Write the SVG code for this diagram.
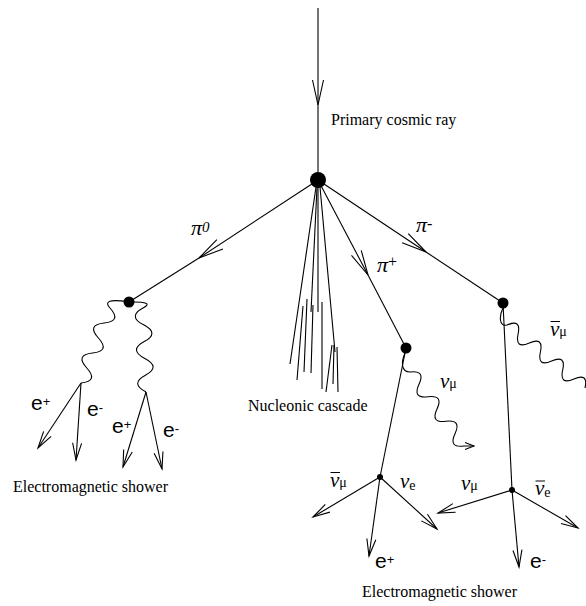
<svg xmlns="http://www.w3.org/2000/svg" width="586" height="606" viewBox="0 0 586 606">
<defs>
<style>
.ln{stroke:#000;stroke-width:1.1;fill:none}
.dot{fill:#000}
.t{font-family:"Liberation Serif",serif;font-size:16px;fill:#000}
.gk{font-family:"Liberation Serif",serif;font-style:italic;font-size:22px;fill:#000}
.nu{font-family:"Liberation Serif",serif;font-style:italic;font-size:21px;fill:#000}
.sub{font-style:normal;font-size:14px}
.e{font-family:"Liberation Sans",sans-serif;font-size:21px;fill:#000}
.sup{font-size:13px}
.ov{stroke:#000;stroke-width:1}
</style>
<marker id="aL" markerUnits="userSpaceOnUse" orient="auto" overflow="visible" markerWidth="1" markerHeight="1" refX="0" refY="0"><path d="M-25,-5.5 L0,0 L-25,5.5" fill="none" stroke="#000" stroke-width="1.1"/></marker>
<marker id="aS" markerUnits="userSpaceOnUse" orient="auto" overflow="visible" markerWidth="1" markerHeight="1" refX="0" refY="0"><path d="M-17,-4.5 L0,0 L-17,4.5" fill="none" stroke="#000" stroke-width="1.1"/></marker>
<marker id="aW" markerUnits="userSpaceOnUse" orient="auto" overflow="visible" markerWidth="1" markerHeight="1" refX="0" refY="0"><path d="M-9,-3.5 L0,0 L-9,3.5" fill="none" stroke="#000" stroke-width="1.1"/></marker>
</defs>
<rect width="586" height="606" fill="#fff"/>

<g id="connectors">
  <line class="ln" x1="318" y1="8" x2="318" y2="105" marker-end="url(#aL)"/>
  <line class="ln" x1="318" y1="105" x2="318" y2="180"/>
  <line class="ln" x1="318" y1="180" x2="199" y2="258" marker-end="url(#aL)"/>
  <line class="ln" x1="199" y1="258" x2="129" y2="302"/>
  <line class="ln" x1="318" y1="180" x2="368" y2="275" marker-end="url(#aL)"/>
  <line class="ln" x1="368" y1="275" x2="406" y2="348"/>
  <line class="ln" x1="318" y1="180" x2="426" y2="252" marker-end="url(#aL)"/>
  <line class="ln" x1="426" y1="252" x2="503" y2="303"/>
  <g id="cascade">
    <line class="ln" x1="316" y1="187" x2="290" y2="364"/>
    <line class="ln" x1="317" y1="187" x2="311" y2="312"/>
    <line class="ln" x1="318" y1="187" x2="318" y2="312"/>
    <line class="ln" x1="320" y1="187" x2="335" y2="352"/>
    <line class="ln" x1="303" y1="306" x2="297" y2="380"/>
    <line class="ln" x1="307" y1="299" x2="304" y2="372"/>
    <line class="ln" x1="313" y1="305" x2="311" y2="373"/>
    <line class="ln" x1="322" y1="302" x2="322" y2="389"/>
    <line class="ln" x1="332" y1="345" x2="326" y2="392"/>
    <line class="ln" x1="334" y1="345" x2="333" y2="384"/>
    <line class="ln" x1="337" y1="347" x2="338" y2="392"/>
  </g>
  <path class="ln" d="M129,302 Q100.4,297.4 110,308 Q122,321.3 104.2,323 T98.4,338 T92.6,353 T86.8,368 T81,383"/>
  <path class="ln" d="M129,302 Q155.6,301.3 143,308 Q127.3,316.4 143.6,324.8 T144.2,341.6 T144.8,358.4 T145.4,375.2 T146,392"/>
  <line class="ln" x1="81" y1="383" x2="38" y2="448" marker-end="url(#aS)"/>
  <line class="ln" x1="81" y1="383" x2="76" y2="460" marker-end="url(#aS)"/>
  <line class="ln" x1="146" y1="392" x2="123" y2="467" marker-end="url(#aS)"/>
  <line class="ln" x1="146" y1="392" x2="162" y2="469" marker-end="url(#aS)"/>
  <line class="ln" x1="406" y1="348" x2="380" y2="477"/>
  <path class="ln" d="M405,353 C401,362 401,372 410,372 Q425.8,369.9 419,384.3 T428,396.7 T437,409 T446,421.3 T455,433.7 T464,446 L474,446" marker-end="url(#aW)"/>
  <line class="ln" x1="503" y1="303" x2="512" y2="490"/>
  <path class="ln" d="M503,308 C499,316 499,327 507,325 Q521.4,318.6 518.1,334 T529.3,343 T540.4,352 T551.6,361 T562.7,370 T573.9,379 T585,388"/>
  <line class="ln" x1="380" y1="477" x2="313" y2="517" marker-end="url(#aS)"/>
  <line class="ln" x1="380" y1="477" x2="369" y2="556" marker-end="url(#aS)"/>
  <line class="ln" x1="380" y1="477" x2="437" y2="529" marker-end="url(#aS)"/>
  <line class="ln" x1="512" y1="490" x2="438" y2="513" marker-end="url(#aS)"/>
  <line class="ln" x1="512" y1="490" x2="519" y2="567" marker-end="url(#aS)"/>
  <line class="ln" x1="512" y1="490" x2="578" y2="528" marker-end="url(#aS)"/>
</g>

<g id="v-main"><circle class="dot" cx="318" cy="180" r="8"/></g>
<g id="v-pi0"><circle class="dot" cx="129" cy="302" r="5.5"/></g>
<g id="v-piplus"><circle class="dot" cx="406" cy="348" r="5.5"/></g>
<g id="v-piminus"><circle class="dot" cx="503" cy="303" r="5.5"/></g>
<g id="v-muplus"><circle class="dot" cx="380" cy="477" r="3"/></g>
<g id="v-muminus"><circle class="dot" cx="512" cy="490" r="3"/></g>

<g id="label-primary"><text class="t" x="331" y="125">Primary cosmic ray</text></g>
<g id="label-nucleonic"><text class="t" x="248" y="411">Nucleonic cascade</text></g>
<g id="label-shower-left"><text class="t" x="13" y="492">Electromagnetic shower</text></g>
<g id="label-shower-right"><text class="t" x="362" y="597">Electromagnetic shower</text></g>

<g id="label-pi0"><text class="gk" x="191" y="235">π<tspan font-size="15" dy="-3">0</tspan></text></g>
<g id="label-piplus"><text class="gk" x="377" y="272">π<tspan font-style="normal" font-size="16" dy="-5">+</tspan></text></g>
<g id="label-piminus"><text class="gk" x="416" y="232">π<tspan font-style="normal" font-size="16" dy="-3">-</tspan></text></g>

<g id="label-e1"><text class="e" x="31" y="410">e<tspan class="sup" dy="-4">+</tspan></text></g>
<g id="label-e2"><text class="e" x="87" y="416">e<tspan class="sup" dy="-4">-</tspan></text></g>
<g id="label-e3"><text class="e" x="112" y="433">e<tspan class="sup" dy="-4">+</tspan></text></g>
<g id="label-e4"><text class="e" x="163" y="437">e<tspan class="sup" dy="-4">-</tspan></text></g>
<g id="label-e5"><text class="e" x="375" y="568">e<tspan class="sup" dy="-4">+</tspan></text></g>
<g id="label-e6"><text class="e" x="530" y="568">e<tspan class="sup" dy="-4">-</tspan></text></g>

<g id="label-numubar-1"><text class="nu" x="550" y="336">ν<tspan class="sub">μ</tspan></text><line class="ov" x1="550.5" y1="321.5" x2="560" y2="321.5"/></g>
<g id="label-numu-1"><text class="nu" x="440" y="388">ν<tspan class="sub">μ</tspan></text></g>
<g id="label-numubar-2"><text class="nu" x="330" y="487">ν<tspan class="sub">μ</tspan></text><line class="ov" x1="330.5" y1="472.5" x2="340" y2="472.5"/></g>
<g id="label-nue"><text class="nu" x="400" y="488">ν<tspan class="sub" dy="2">e</tspan></text></g>
<g id="label-numu-2"><text class="nu" x="461" y="490">ν<tspan class="sub">μ</tspan></text></g>
<g id="label-nuebar"><text class="nu" x="535" y="495">ν<tspan class="sub" dy="2">e</tspan></text><line class="ov" x1="535.5" y1="481" x2="545" y2="481"/></g>
</svg>
